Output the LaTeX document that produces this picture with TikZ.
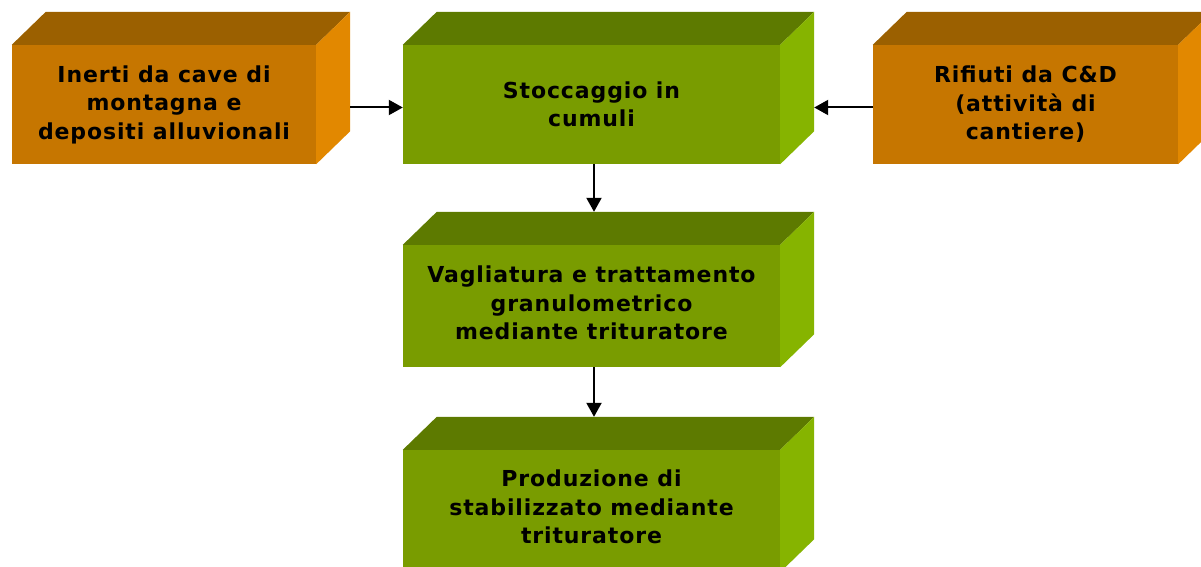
\documentclass[tikz,border=0pt]{standalone}
\usepackage{fontspec}
\setmainfont{DejaVu Sans}
\newfontfamily\boxfont[LetterSpace=4]{DejaVu Sans}
\usetikzlibrary{arrows.meta}
\definecolor{ofront}{HTML}{C67600}
\definecolor{otop}{HTML}{9B6000}
\definecolor{oside}{HTML}{E28800}
\definecolor{gfront}{HTML}{799C00}
\definecolor{gtop}{HTML}{5D7A00}
\definecolor{gside}{HTML}{86B400}
\tikzset{
  face/.style={inner sep=0pt, align=center, font=\boxfont\bfseries\fontsize{22}{28.5}\selectfont},
  obox/.style={face, fill=ofront},
  gbox/.style={face, fill=gfront},
  conn/.style={line width=2pt, -{Triangle[length=14pt,width=15pt]}},
}
\newcommand\cubefaces[3]{%
  \fill[#2] (#1.north west) -- ([shift={(34,33)}]#1.north west) -- ([shift={(34,33)}]#1.north east) -- (#1.north east) -- cycle;
  \fill[#3] (#1.north east) -- ([shift={(34,33)}]#1.north east) -- ([shift={(34,33)}]#1.south east) -- (#1.south east) -- cycle;
}
\begin{document}
\begin{tikzpicture}[x=1pt,y=1pt]
\useasboundingbox (0,0) rectangle (1201,566);
\clip (0,0) rectangle (1201,566);
\node[obox, minimum width=304pt, minimum height=119pt] (inerti) at (164,461.5) {Inerti da cave di\\montagna e\\depositi alluvionali};
\node[gbox, minimum width=377pt, minimum height=119pt] (stocc) at (591.5,461.5) {Stoccaggio in\\cumuli};
\node[obox, minimum width=305pt, minimum height=119pt] (rifiuti) at (1025.5,461.5) {Rifiuti da C\&D\\(attività di\\cantiere)};
\node[gbox, minimum width=377pt, minimum height=122pt, text depth=6pt] (vagl) at (591.5,260) {Vagliatura e trattamento\\granulometrico\\mediante trituratore};
\node[gbox, minimum width=377pt, minimum height=122pt, text depth=8pt] (prod) at (591.5,55) {Produzione di\\stabilizzato mediante\\trituratore};
\cubefaces{inerti}{otop}{oside}
\cubefaces{stocc}{gtop}{gside}
\cubefaces{rifiuti}{otop}{oside}
\cubefaces{vagl}{gtop}{gside}
\cubefaces{prod}{gtop}{gside}
\coordinate (inertiR) at ([xshift=34pt]inerti.east);
\coordinate (stoccR) at ([xshift=34pt]stocc.east);
\draw[conn] ([yshift=-3pt]inertiR) -- ([yshift=-3pt]stocc.west);
\draw[conn] ([yshift=-3pt]rifiuti.west) -- ([yshift=-3pt]stoccR);
\draw[conn] ([xshift=2.5pt]stocc.south) -- ([xshift=2.5pt,yshift=33pt]vagl.north);
\draw[conn] ([xshift=2.5pt]vagl.south) -- ([xshift=2.5pt,yshift=33pt]prod.north);
\end{tikzpicture}
\end{document}
